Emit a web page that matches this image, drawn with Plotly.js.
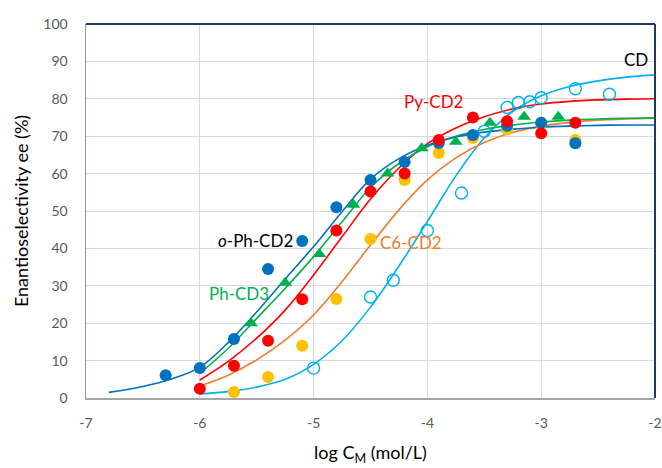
<!DOCTYPE html>
<html>
<head>
<meta charset="utf-8">
<script src="https://cdn.plot.ly/plotly-3.0.1.min.js"></script>
<style>html,body{margin:0;padding:0;background:#fff;}#chart{width:662px;height:468px;}</style>
</head>
<body>
<div id="chart"></div>
<script>
// ---- measured data points ----
const oPhX = [-6.3, -6.0, -5.7, -5.4, -5.1, -4.8, -4.5, -4.2, -3.9, -3.6, -3.3, -3.0, -2.7];
const oPhY = [6.1, 8.0, 15.8, 34.5, 42.0, 51.0, 58.3, 63.1, 68.2, 70.3, 72.8, 73.6, 68.1];

const pyX = [-6.0, -5.7, -5.4, -5.1, -4.8, -4.5, -4.2, -3.9, -3.6, -3.3, -3.0, -2.7];
const pyY = [2.5, 8.6, 15.3, 26.4, 44.8, 55.2, 60.0, 69.0, 75.0, 74.0, 70.8, 73.6];

const c6X = [-5.7, -5.4, -5.1, -4.8, -4.5, -4.2, -3.9, -3.6, -3.3, -3.0, -2.7];
const c6Y = [1.6, 5.6, 14.0, 26.5, 42.5, 58.3, 65.5, 69.5, 71.8, 73.4, 69.0];

const ph3X = [-5.55, -5.25, -4.95, -4.65, -4.35, -4.05, -3.75, -3.45, -3.15, -2.85];
const ph3Y = [20.0, 30.8, 38.5, 51.7, 60.0, 66.8, 68.5, 73.6, 75.2, 75.2];

const cdX = [-5.0, -4.5, -4.3, -4.0, -3.7, -3.5, -3.3, -3.2, -3.1, -3.0, -2.7, -2.4];
const cdY = [8.0, 27.0, 31.5, 44.8, 54.8, 71.3, 77.7, 79.0, 79.2, 80.3, 82.7, 81.2];

// ---- fitted curves ----
const fitBlueX = [-6.8, -6.5, -6.25, -6.0, -5.75, -5.5, -5.25, -5.0, -4.75, -4.5, -4.25, -4.0, -3.75, -3.5, -3.25, -3.0, -2.75, -2.5, -2.25, -2.0];
const fitBlueY = [1.5, 3.1, 5.1, 8.2, 14.8, 23.0, 31.8, 40.5, 49.8, 58.5, 64.0, 67.6, 69.8, 71.1, 71.9, 72.4, 72.7, 72.9, 73.0, 73.0];

const fitX = [-6.0, -5.75, -5.5, -5.25, -5.0, -4.75, -4.5, -4.25, -4.0, -3.75, -3.5, -3.25, -3.0, -2.75, -2.5, -2.25, -2.0];
const fitGreenY  = [6.6, 13.3, 21.3, 29.3, 37.8, 47.1, 56.3, 62.7, 67.2, 70.0, 71.8, 73.0, 73.8, 74.3, 74.6, 74.8, 74.9];
const fitRedY    = [4.8, 9.8, 16.0, 23.5, 32.9, 43.1, 53.2, 61.5, 68.0, 72.2, 75.2, 77.3, 78.6, 79.3, 79.7, 79.9, 80.0];
const fitOrangeY = [3.2, 6.1, 10.2, 15.5, 22.2, 31.1, 40.9, 50.3, 58.3, 64.2, 68.3, 71.0, 72.7, 73.7, 74.3, 74.6, 74.8];
const fitCdY     = [1.1, 1.7, 2.9, 5.0, 9.0, 15.3, 24.3, 35.3, 47.2, 59.4, 69.5, 76.6, 80.8, 83.3, 84.8, 85.8, 86.4];

// ---- tick labels ----
const xTickVals = [-7, -6, -5, -4, -3, -2];
const xTickText = ['-7', '-6', '-5', '-4', '-3', '-2'];
const yTickVals = [0, 10, 20, 30, 40, 50, 60, 70, 80, 90, 100];
const yTickText = ['0', '10', '20', '30', '40', '50', '60', '70', '80', '90', '100'];

// ---- labels ----
const labelText = ['CD', 'Py-CD2', '<i>o</i>-Ph-CD2', 'Ph-CD3', 'C6-CD2'];
const labelX = [-2.168, -3.945, -5.509, -5.658, -4.142];
const labelY = [90.5, 79.4, 42.0, 28.0, 41.6];

const BLUE = '#0070C0', RED = '#FF0000', GREEN = '#00B050', GOLD = '#FFC000', ORANGE = '#ED7D31', SKY = '#00B0F0';
const labelColor = ['#000000', RED, '#000000', GREEN, ORANGE];

function line(x, y, color) {
  return {x: x, y: y, mode: 'lines', type: 'scatter', line: {color: color, width: 1.6, shape: 'spline', smoothing: 1}, hoverinfo: 'skip', showlegend: false};
}
function pts(x, y, color, symbol, size) {
  return {x: x, y: y, mode: 'markers', type: 'scatter', showlegend: false,
    marker: {color: color, size: size, symbol: symbol, line: {width: symbol === 'circle-open' ? 1.4 : 0, color: color}}};
}

const data = [
  line(fitX, fitCdY, SKY),
  line(fitX, fitOrangeY, ORANGE),
  line(fitX, fitRedY, RED),
  line(fitX, fitGreenY, GREEN),
  line(fitBlueX, fitBlueY, BLUE),
  pts(cdX, cdY, SKY, 'circle-open', 12),
  pts(c6X, c6Y, GOLD, 'circle', 12),
  pts(oPhX, oPhY, BLUE, 'circle', 12),
  pts(pyX, pyY, RED, 'circle', 12),
  pts(ph3X, ph3Y, GREEN, 'triangle-up', 12)
];

const annotations = labelText.map((t, i) => ({
  x: labelX[i], y: labelY[i], xref: 'x', yref: 'y', text: t, showarrow: false,
  xanchor: 'center', yanchor: 'middle', font: {family: 'Lato, sans-serif', size: 17, color: labelColor[i]}
}));

const layout = {
  width: 662, height: 468,
  margin: {l: 86, r: 7, t: 24, b: 70},
  paper_bgcolor: '#ffffff', plot_bgcolor: '#ffffff',
  font: {family: 'Lato, sans-serif', color: '#595959'},
  xaxis: {
    range: [-7, -2], tickmode: 'array', tickvals: xTickVals, ticktext: xTickText,
    ticklabeloverflow: 'allow',
    showgrid: true, gridcolor: '#D9D9D9', gridwidth: 1, zeroline: false,
    showline: true, linecolor: '#A6A6A6', linewidth: 1.5,
    ticks: 'outside', ticklen: 12, tickcolor: 'rgba(0,0,0,0)',
    tickfont: {size: 14, color: '#595959'},
    title: {text: 'log C<sub>M</sub> (mol/L)', font: {size: 18, color: '#000000'}, standoff: 16}
  },
  yaxis: {
    range: [0, 100], tickmode: 'array', tickvals: yTickVals, ticktext: yTickText,
    showgrid: true, gridcolor: '#D9D9D9', gridwidth: 1, zeroline: false,
    showline: true, linecolor: '#8497B0', linewidth: 1.5,
    ticks: 'outside', ticklen: 14, tickcolor: 'rgba(0,0,0,0)',
    tickfont: {size: 14, color: '#595959'},
    title: {text: 'Enantioselectivity ee (%)', font: {size: 18, color: '#000000'}, standoff: 10}
  },
  shapes: [
    {type: 'line', xref: 'paper', yref: 'paper', x0: 0, x1: 1, y0: 1, y1: 1, line: {color: '#203864', width: 2}},
    {type: 'line', xref: 'paper', yref: 'paper', x0: 1, x1: 1, y0: 0, y1: 1, line: {color: '#203864', width: 2}}
  ],
  annotations: annotations
};

Plotly.newPlot('chart', data, layout, {displayModeBar: false, staticPlot: true});
</script>
</body>
</html>
